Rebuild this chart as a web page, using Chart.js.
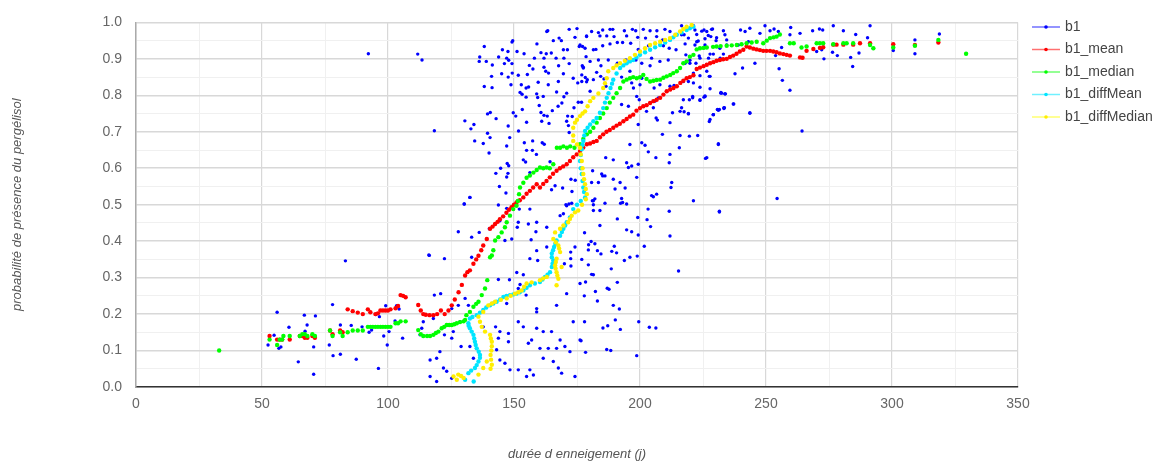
<!DOCTYPE html>
<html>
<head>
<meta charset="utf-8">
<script src="https://cdn.jsdelivr.net/npm/chart.js@4.4.0/dist/chart.umd.min.js"></script>
<style>
  html, body { margin: 0; padding: 0; background: #fff; }
</style>
</head>
<body>
<canvas id="canvas" width="1158" height="462"></canvas>
<script>
// axis ticks (major) - minor lines are drawn halfway
const xTicks = [0, 50, 100, 150, 200, 250, 300, 350];
const yTicks = [0.0, 0.1, 0.2, 0.3, 0.4, 0.5, 0.6, 0.7, 0.8, 0.9, 1.0];
const xTitle = 'durée d enneigement (j)';
const yTitle = 'probabilité de présence du pergélisol';

const seriesNames = ['b1', 'b1_mean', 'b1_median', 'b1_diffMean', 'b1_diffMedian'];
const seriesColors = ['#0000ff', '#ff0000', '#00ff00', '#00e5ff', '#ffee00'];
const legendLineColors = ['#7070ff', '#ff7070', '#70ff70', '#70f0ff', '#ffff70'];

// [duree, probabilite]
const b1 = [
  [52.4,0.115],[54.8,0.142],[56,0.205],[56.7,0.106],[57.5,0.11],[60.7,0.164],[64.4,0.069],[66.8,0.197],[67.1,0.153],[67.9,0.17],
  [70.5,0.11],[70.5,0.035],[71.2,0.195],[76.7,0.115],[78,0.226],[78.2,0.086],[81.1,0.17],[81.1,0.09],[83.1,0.346],[85.4,0.169],
  [87.4,0.076],[89.7,0.165],[92.2,0.914],[92.5,0.15],[93.5,0.156],[95.2,0.199],[96.2,0.051],[96.6,0.193],[98.3,0.14],[99.1,0.223],
  [99.7,0.115],[100.4,0.152],[102.8,0.181],[103.4,0.223],[104.4,0.214],[111.8,0.913],[113.5,0.897],[116.2,0.362],[118.4,0.703],
  // zoom 7 area
  [163.4,0.977],[163,0.975],[171.9,0.981],[175,0.983],[149.5,0.95],[149.2,0.946],[159.1,0.941],[165.6,0.95],[167.9,0.957],[168.8,0.95],
  [174.2,0.959],[178.8,0.961],[138.2,0.934],[145.4,0.925],[147.6,0.92],[151.2,0.92],[154,0.914],[160.7,0.917],[162.8,0.914],[164.8,0.916],
  [169.6,0.925],[171.2,0.925],[175.9,0.934],[177.2,0.934],[136.4,0.905],[136.2,0.893],[139,0.893],[143.9,0.905],[147.1,0.902],[147.9,0.896],
  [146.2,0.887],[149.2,0.887],[141.4,0.883],[158.1,0.902],[161.9,0.902],[166.7,0.902],[169.8,0.902],[156.1,0.882],[161.9,0.877],[167.7,0.881],
  [171.9,0.887],[177.1,0.881],[177.5,0.875],[141.1,0.852],[145.1,0.859],[147.7,0.85],[149.3,0.861],[151.7,0.855],[155.3,0.857],[157.5,0.872],
  [162.6,0.866],[163.7,0.861],[169.6,0.859],[173.5,0.847],[178.3,0.849],[138.2,0.824],[141.3,0.821],[148.8,0.829],[152.9,0.829],[154.8,0.82],
  [155.8,0.823],[159.6,0.836],[163.6,0.829],[167.6,0.838],[175.3,0.834],[178.8,0.837],[152.4,0.808],[153.2,0.803],[154.8,0.795],[159,0.804],
  [159.4,0.794],[161.6,0.797],[166.9,0.809],[170.9,0.806],[169.8,0.796],[169,0.779],[167.5,0.77],[160,0.772],[175.5,0.781],[176.8,0.781],
  [173.8,0.766],[149.7,0.752],[139.5,0.749],[140.6,0.753],[142.9,0.736],[150.7,0.743],[153.3,0.761],[160.7,0.753],[161.9,0.745],[163.2,0.743],
  [165.2,0.758],[171.3,0.743],[170.9,0.729],[173.1,0.742],[130.5,0.73],[134.1,0.72],[132.9,0.708],[147.7,0.716],[155,0.726],[161,0.729],
  [163.9,0.723],[171.6,0.717],[171.9,0.698],[151.8,0.702],[139.5,0.696],[140.5,0.684],[148.3,0.684],[134.4,0.675],[137.8,0.668],[154.1,0.67],
  [157.4,0.675],[161.2,0.67],[162,0.666],[155,0.649],[157.3,0.649],[158.9,0.638],[140.1,0.642],[147.1,0.661],[164.3,0.618],[153.7,0.623],
  [154.6,0.617],[147.3,0.613],[147.9,0.607],[144.7,0.6],[142.8,0.586],[147.6,0.586],[147.1,0.576],[156.3,0.588],[144.2,0.55],[146.8,0.532],
  [132.5,0.52],[130.2,0.502],[166.3,0.552],[169.3,0.546],[172.6,0.57],[174.3,0.567],[173,0.536],[171.8,0.502],[170.6,0.5],[164.9,0.541],
  // zoom 8 area
  [180.8,0.975],[183.5,0.972],[185.2,0.979],[188.1,0.981],[189.2,0.981],[193.8,0.977],[197,0.981],[198.3,0.977],[201.3,0.981],[204,0.977],
  [206.7,0.977],[209.9,0.981],[211.9,0.975],[178.8,0.963],[184.1,0.963],[186.8,0.963],[189.7,0.961],[194.7,0.963],[199.1,0.959],[202.2,0.957],
  [206.6,0.961],[209,0.952],[216.5,0.966],[221.8,0.979],[225.4,0.979],[228.4,0.981],[233.1,0.977],[176.2,0.938],[178.2,0.929],[181.5,0.925],
  [182.5,0.926],[185.2,0.936],[188.1,0.941],[191,0.945],[193.1,0.945],[196.3,0.943],[199.3,0.926],[203.4,0.936],[209.3,0.936],[211.6,0.929],
  [214.3,0.925],[217.9,0.941],[222.5,0.947],[225.8,0.938],[228.1,0.961],[230.2,0.95],[234.4,0.952],[178.6,0.906],[180.2,0.893],[183.5,0.897],
  [184.5,0.881],[187.4,0.897],[191,0.888],[194.4,0.897],[198.4,0.897],[200.7,0.888],[204,0.881],[204.6,0.902],[207.9,0.893],[211.2,0.897],
  [219.8,0.896],[223.5,0.908],[227.2,0.902],[231.8,0.902],[177.5,0.877],[176.9,0.856],[179.1,0.843],[181.5,0.843],[182.8,0.863],[184.4,0.852],
  [185.7,0.845],[186.5,0.825],[189.4,0.843],[192.7,0.85],[196,0.866],[196.7,0.834],[197.4,0.82],[200,0.829],[200.7,0.847],[205.6,0.82],
  [207.9,0.829],[211.9,0.825],[213.5,0.827],[217.2,0.838],[221.2,0.834],[223.8,0.854],[227.5,0.852],[232.4,0.806],[233.7,0.804],[176.9,0.838],
  [180.2,0.811],[198.7,0.797],[199.7,0.788],[205.9,0.784],[207.3,0.793],[217.2,0.788],[220.9,0.797],[225.4,0.795],[192.7,0.775],[195.4,0.77],
  [202.6,0.756],[205.3,0.766],[212.9,0.752],[215.9,0.756],[219.2,0.75],[229.1,0.747],[230.7,0.761],[233.3,0.766],[206.4,0.738],[206.9,0.732],
  [199.3,0.72],[211.9,0.725],[215.9,0.69],[219.6,0.688],[222.9,0.69],[208.9,0.693],[200.7,0.67],[202,0.663],[203.3,0.645],[196,0.665],
  [231.1,0.667],[226.5,0.629],[211.9,0.638],[211.6,0.615],[215.6,0.656],[206.3,0.629],[199.3,0.611],[196.7,0.606],[194.7,0.615],[195.4,0.602],
  [189.4,0.623],[186.4,0.629],[184.8,0.584],[185.2,0.579],[181.2,0.593],[180.8,0.561],[183.5,0.561],[192.1,0.561],[190.1,0.543],[194.1,0.546],
  [189.4,0.57],[186.1,0.579],[198.7,0.575],[204.6,0.525],[206.6,0.529],[212.3,0.547],[212.6,0.561],[221.2,0.511],[182.1,0.516],[181.5,0.511],
  // zoom 9 area
  [181.1,0.511],[186.1,0.504],[181.5,0.5],[192.7,0.517],[193.1,0.506],[192.3,0.504],[194.7,0.502],[205.3,0.522],[203.2,0.488],[211.6,0.482],
  [231.5,0.482],[181.5,0.484],[184.1,0.484],[191,0.461],[199.1,0.465],[202.8,0.459],[184.1,0.443],[204.2,0.44],[178,0.423],[194.7,0.431],
  [196.7,0.426],[199.3,0.417],[211.9,0.414],[180.6,0.399],[182.1,0.393],[179.6,0.39],[189.8,0.386],[201.7,0.386],[179.5,0.376],[183.1,0.374],
  [184.5,0.365],[188.8,0.372],[190.7,0.368],[198.9,0.359],[196,0.356],[193.8,0.347],[176.9,0.35],[179.5,0.335],[188.6,0.324],[215.3,0.318],
  [180.8,0.309],[181.5,0.308],[176.2,0.284],[178.4,0.288],[191,0.287],[187,0.271],[187.7,0.268],[182.3,0.262],[177.9,0.25],[183.1,0.236],
  [189.4,0.224],[191.8,0.214],[178,0.179],[190.2,0.184],[187.2,0.168],[185.3,0.162],[192.2,0.158],[199.5,0.179],[203.7,0.164],[206.3,0.162],
  [176.6,0.127],[186.8,0.103],[188.4,0.1],[178.4,0.095],[198.7,0.086],
  // zoom 10 area
  [223.8,0.788],[225.8,0.798],[232.1,0.806],[233.9,0.804],[237.2,0.776],[233.3,0.764],[231.1,0.759],[229.1,0.747],[243.6,0.751],[227.5,0.728],
  [264.3,0.702],[231.1,0.665],[226,0.627],[254.4,0.517],[231.5,0.48],
  // zoom 11 area
  [132.5,0.52],[130.3,0.502],[143.8,0.499],[147.1,0.49],[152.1,0.488],[156.3,0.488],[144.4,0.456],[151.7,0.452],[155.7,0.447],[159,0.452],
  [163,0.438],[168.3,0.47],[169.6,0.475],[170.9,0.497],[172.9,0.504],[140.2,0.434],[136.2,0.424],[127.9,0.426],[133.2,0.411],[146.4,0.402],
  [149.1,0.406],[151.3,0.438],[156.8,0.404],[158.7,0.426],[163,0.384],[172.5,0.37],[174.2,0.384],[116.4,0.361],[122.4,0.352],[133.2,0.356],
  [159,0.374],[156.3,0.352],[159.4,0.347],[172.5,0.352],[170,0.338],[172.6,0.332],[151.1,0.314],[153.7,0.308],[148.2,0.294],[143.8,0.295],
  [152.4,0.281],[156.3,0.279],[151.7,0.27],[154.8,0.252],[170.9,0.256],[118.4,0.252],[120.9,0.256],[130.6,0.243],[131.9,0.224],[127.9,0.224],
  [147.1,0.229],[159,0.215],[159,0.206],[166.9,0.224],[105.8,0.134],[114,0.179],[118,0.188],[125.3,0.215],[125.9,0.152],[128.6,0.179],
  [113.4,0.161],[112.7,0.143],[122.4,0.143],[125.3,0.134],[129,0.111],[137.8,0.165],[142.7,0.165],[144.4,0.152],[147.8,0.147],[151.7,0.179],
  [153.7,0.165],[159,0.161],[161.6,0.152],[164.9,0.152],[168.3,0.129],[173.5,0.179],[176.2,0.129],[143.8,0.134],[147.8,0.124],[155.7,0.12],
  [157,0.129],[160.3,0.106],[163.6,0.106],[166.9,0.106],[170.2,0.111],[172.2,0.097],[120.6,0.097],[119.3,0.079],[116.7,0.074],[122,0.052],
  [123.3,0.043],[116.7,0.029],[119.3,0.015],[143.1,0.102],[144.4,0.074],[146.4,0.065],[148.4,0.047],[151.7,0.047],[155,0.029],[156.3,0.047],
  [157.7,0.033],[161.6,0.079],[165.6,0.07],[167.6,0.052],[168.9,0.038],[174.2,0.029],[125.3,0.024],[132.5,0.111],[133.9,0.079],
  // zoom 6 area
  [216.5,0.991],[221.2,0.991],[217.5,0.966],[219.2,0.957],[222.5,0.967],[224.5,0.976],[226.5,0.975],[228.8,0.982],[227.1,0.964],[225.8,0.955],
  [223.1,0.949],[221.8,0.938],[230.4,0.958],[233.7,0.966],[239.9,0.979],[241.7,0.975],[243.6,0.984],[247.6,0.97],[249.6,0.991],[251.6,0.977],
  [253.2,0.982],[254.9,0.975],[259.8,0.986],[263.5,0.97],[268.5,0.977],[271.2,0.982],[272.5,0.979],[276.7,0.991],[280.7,0.977],[285.6,0.967],
  [290.3,0.958],[291.3,0.991],[309.1,0.952],[318.8,0.968],[309.1,0.914],[300.5,0.923],[259.5,0.966],[256.2,0.931],[239,0.938],[243,0.947],
  [234.4,0.938],[231.7,0.929],[229.1,0.913],[233.1,0.913],[227.8,0.913],[223.8,0.902],[222.2,0.888],[219.8,0.888],[218.2,0.911],[217.9,0.888],
  [226.5,0.866],[227.8,0.852],[221.2,0.861],[219.2,0.838],[237.7,0.859],[240.7,0.875],[245.6,0.888],[253.8,0.909],[255.2,0.873],[256.5,0.841],
  [259.5,0.814],[270.1,0.92],[272.1,0.925],[273,0.9],[276.4,0.918],[278.3,0.909],[283.6,0.904],[284.4,0.879],[286.9,0.916],[223.8,0.822],
  [227.8,0.818],[220.9,0.793],[219.6,0.788],[223.8,0.786],[225.8,0.797],[232.1,0.808],[233.7,0.804],[237,0.776],[243.6,0.752],[216.5,0.766],
  [217.5,0.755],[219.2,0.749],[229.1,0.747],[231.5,0.761],[233.5,0.766],[227.8,0.734]
];

const b1_mean = [
  [53,0.14],[56,0.13],[57,0.13],[58,0.13],[61,0.13],[65,0.14],[66,0.14],[67,0.135],[68,0.135],[70,0.14],[71,0.135],
  [77,0.155],[78,0.145],[81,0.155],[82,0.15],
  [84,0.213],[86,0.208],[88,0.204],[90,0.2],[92,0.213],[93,0.205],[95,0.2],[96,0.202],[97,0.21],[98,0.21],[99,0.21],[100,0.21],
  [101,0.213],[103,0.216],[104,0.222],[105,0.252],[106,0.25],[107,0.246],
  [112,0.225],[113,0.21],[114,0.2],[115,0.198],[116.5,0.197],[118,0.197],[119.5,0.2],[121,0.21],[122.5,0.2],[124,0.21],[125.3,0.224],
  [126.5,0.24],[128,0.26],[129.3,0.28],[130.6,0.306],[131.5,0.315],[132.5,0.32],[133.9,0.338],[135,0.35],[135.9,0.36],[137,0.375],
  [137.8,0.388],[139.2,0.406],[140.5,0.434],[141.5,0.44],[142.5,0.447],[143.5,0.453],[144.4,0.46],[145.7,0.468],[147,0.478],[148,0.486],
  [149,0.493],[150,0.5],[151,0.506],[152.3,0.512],[153.7,0.52],[155,0.53],[156.3,0.538],[157.6,0.547],[159,0.556],[160.3,0.547],
  [161.6,0.557],[162.9,0.565],[164.2,0.575],[165.5,0.585],[166.9,0.593],[168.2,0.6],[169.5,0.605],[170.9,0.611],[172.2,0.62],[173.5,0.63],
  [174.9,0.638],[176.2,0.647],[177.5,0.657],[178.9,0.666],[180.2,0.668],[181.5,0.672],[182.8,0.675],[184.1,0.685],[185.4,0.693],[186.7,0.7],
  [188,0.705],[189.4,0.711],[190.7,0.717],[192,0.722],[193.4,0.729],[194.7,0.735],[196,0.742],[197.3,0.747],[198.6,0.758],[200,0.765],
  [201.3,0.77],[202.6,0.773],[204,0.779],[205.3,0.784],[206.6,0.788],[208,0.793],[209.3,0.802],[210.6,0.811],[212,0.816],[213.3,0.82],
  [214.6,0.825],[216,0.834],[217.2,0.84],[218.5,0.847],[219.8,0.85],[221.2,0.855],[222.5,0.872],[223.8,0.876],[225.2,0.88],[226.5,0.884],
  [227.8,0.888],[229.1,0.891],[230.4,0.895],[231.7,0.897],[233,0.899],[234.4,0.9],[235.7,0.905],[237,0.909],[238.3,0.914],[239.6,0.92],
  [241,0.925],[242.3,0.934],[243.6,0.931],[245,0.928],[246.3,0.926],[247.6,0.924],[248.9,0.922],[250.2,0.922],[251.6,0.922],[252.9,0.92],
  [254.2,0.918],[255.5,0.915],[256.9,0.913],[258.2,0.911],[259.5,0.909],[263.5,0.904],[264.5,0.903],[266.1,0.922],[268.8,0.927],[271.4,0.93],
  [272.7,0.932],[276.7,0.939],[278,0.939],[280.7,0.939],[284.6,0.939],[287.3,0.943],[291.3,0.943],[300.5,0.94],[309.1,0.938],[318.4,0.945]
];

const b1_median = [
  [33,0.1],[53,0.13],[56,0.115],[57,0.13],[58,0.13],[58.5,0.14],[61,0.14],[65,0.14],[66,0.145],[67,0.145],[68,0.14],[70,0.145],[71,0.14],
  [77,0.155],[78,0.14],[81,0.15],[82,0.14],[84,0.15],[86,0.155],[88,0.155],[90,0.155],[92,0.165],[93,0.165],[94,0.165],[95,0.165],
  [96,0.165],[97,0.165],[98,0.165],[99,0.165],[100,0.165],[101,0.165],[103,0.175],[104,0.175],[105,0.18],[107,0.18],
  [112,0.156],[113,0.145],[114,0.14],[115.5,0.14],[116.7,0.14],[118,0.143],[119,0.148],[120,0.152],[121.3,0.161],[122.3,0.165],
  [123.3,0.17],[124.3,0.17],[125.3,0.17],[126.3,0.172],[127.3,0.175],[128.6,0.178],[130,0.18],[130.6,0.184],[131.1,0.197],[132.5,0.206],
  [133.9,0.22],[135,0.228],[135.9,0.234],[137.2,0.252],[138.5,0.27],[139.4,0.293],
  [140.5,0.356],[141.2,0.361],[141.8,0.375],[142.5,0.402],[143.8,0.411],[145.1,0.424],[146.4,0.438],[147.1,0.452],[148.4,0.47],[149.7,0.488],
  [151,0.497],[151.5,0.51],[152,0.529],[152.4,0.547],[153.7,0.56],[155,0.574],[156.3,0.58],[157.7,0.588],[159,0.595],[160.3,0.602],
  [161.6,0.6],[162.9,0.602],[164.2,0.6],[165.6,0.611],[167,0.656],[168.3,0.656],[169.6,0.66],[171,0.656],[172.3,0.66],[174,0.656],
  [176.2,0.666],[177.5,0.68],[178.9,0.693],[180.2,0.7],[181.5,0.711],[182.8,0.725],[184.1,0.738],[185.4,0.75],[186.8,0.765],[188,0.78],
  [189.4,0.793],[190.7,0.806],[192.1,0.82],[193.4,0.838],[194.7,0.843],[196,0.847],[197.3,0.85],[198.7,0.847],[200,0.85],[201.3,0.856],
  [202.6,0.845],[204,0.838],[205.3,0.84],[206.6,0.842],[208,0.843],[209.3,0.848],[210.6,0.852],[212,0.856],[213.2,0.861],[214.6,0.866],
  [215.9,0.875],[217.2,0.888],[218.5,0.893],[219.8,0.906],[221.2,0.911],[222.5,0.926],[223.8,0.929],[225.2,0.93],[226.5,0.931],[229,0.933],
  [230.4,0.934],[232,0.935],[234.4,0.936],[236.4,0.937],[238.4,0.938],[240.3,0.94],[242.3,0.943],[244.3,0.945],[246.3,0.947],[248.9,0.943],
  [250.3,0.95],[251.6,0.957],[253,0.959],[254.2,0.961],[255.5,0.967],[259.5,0.943],[261,0.943],[264.1,0.931],[266.1,0.934],[270.1,0.943],
  [271.4,0.943],[272.7,0.943],[276.7,0.94],[280.7,0.943],[282,0.943],[284.6,0.943],[291.3,0.938],[292.6,0.929],[300.5,0.931],[309.1,0.936],
  [318.4,0.952],[329.4,0.914]
];

const b1_diffMean = [
  [130.6,0.02],[131.9,0.038],[133,0.045],[134,0.015],[134.5,0.052],[135.2,0.06],[135.9,0.07],[136.5,0.08],[136.5,0.088],[136,0.097],
  [135.2,0.106],[134.8,0.115],[134.5,0.124],[134.2,0.133],[133.9,0.143],[133.2,0.152],[132.5,0.161],[132,0.168],[131.9,0.175],[132.5,0.188],
  [133.5,0.192],[135.2,0.197],[136.5,0.204],[137.8,0.211],[139,0.218],[140.5,0.224],[141.8,0.229],[143.1,0.234],[144.5,0.24],[145.8,0.247],
  [147,0.25],[148.4,0.252],[149.7,0.254],[151,0.256],[152.3,0.26],[153.7,0.265],[155,0.272],[156.3,0.279],[158.3,0.284],[160.3,0.288],
  [161.3,0.295],[162.3,0.302],[163.3,0.308],[164.3,0.315],[165,0.329],[165.3,0.338],[165.6,0.347],[165,0.356],[165,0.366],[165.5,0.375],
  [165.9,0.384],[166.4,0.393],[166.9,0.402],[168.3,0.415],[169,0.425],[169.6,0.434],[170.3,0.443],[170.9,0.452],[172.2,0.465],[173.5,0.488],
  [175,0.5],[176.5,0.51],[178.2,0.52],[177.8,0.535],[177.5,0.547],[177.2,0.565],[176.9,0.584],[176.5,0.6],[176.2,0.62],[176.5,0.636],
  [176.9,0.652],[177.2,0.664],[177.5,0.675],[177.9,0.69],[178.2,0.702],[179.2,0.711],[180.2,0.72],[181.5,0.729],[182.8,0.738],[184.1,0.752],
  [185.4,0.765],[186.1,0.78],[186.8,0.793],[187.5,0.806],[188.3,0.82],[188.9,0.832],[189.4,0.843],[190.7,0.86],[192.1,0.875],[193.4,0.882],
  [194.7,0.888],[196,0.893],[197.3,0.897],[198.6,0.904],[200,0.911],[202,0.918],[204,0.925],[206,0.932],[208,0.938],[210,0.945],
  [211.9,0.952],[213.2,0.959],[214.6,0.966],[216.5,0.972],[218.5,0.979],[219.8,0.984],[221.2,0.988]
];

const b1_diffMedian = [
  [126,0.029],[127.3,0.02],[127.9,0.034],[129,0.03],[130,0.025],[135.9,0.034],[137.8,0.052],[139.2,0.07],[140.7,0.05],[141.2,0.061],
  [140.9,0.075],[140.7,0.088],[141,0.1],[141.2,0.112],[141.2,0.124],[140.8,0.133],[140.5,0.143],[138.5,0.152],[137.2,0.165],[136.5,0.179],
  [135.9,0.193],[137.8,0.206],[139.8,0.224],[141.2,0.229],[142.5,0.234],[144.8,0.239],[147.1,0.243],[148.7,0.25],[150.4,0.256],[151.7,0.26],
  [153,0.265],[154,0.275],[155,0.284],[157,0.287],[160.3,0.293],[161.6,0.298],[163,0.302],[166.9,0.279],[167.6,0.297],[167.2,0.306],
  [166.9,0.315],[166.5,0.325],[166.3,0.334],[166.6,0.343],[166.9,0.352],[168.9,0.329],[168.3,0.37],[167.9,0.38],[167.6,0.388],[166.6,0.397],
  [165.6,0.406],[166.3,0.424],[168.3,0.434],[169.6,0.443],[171.5,0.452],[172.2,0.461],[172.9,0.47],[174.2,0.479],[175.5,0.484],[177,0.5],
  [178.5,0.515],[178.9,0.529],[178.5,0.543],[178.2,0.556],[177.8,0.57],[177.5,0.584],[177.2,0.6],[176.9,0.62],[176.5,0.638],[176.2,0.656],
  [175,0.665],[173.5,0.675],[173.5,0.69],[173.5,0.711],[174.2,0.725],[175,0.733],[176.2,0.743],[177.2,0.75],[178.2,0.756],[179.2,0.77],
  [180.2,0.784],[181.5,0.793],[183.5,0.805],[185.4,0.82],[186.1,0.833],[186.8,0.847],[187.4,0.866],[189.4,0.875],[190.7,0.882],[192.1,0.888],
  [194,0.895],[196,0.902],[198,0.911],[200,0.92],[202,0.929],[204,0.938],[206,0.943],[208,0.947],[210,0.952],[211.9,0.957],
  [214,0.966],[215.9,0.975],[217.2,0.982],[218.5,0.988],[220.5,0.993]
];

const allSeries = [b1, b1_mean, b1_median, b1_diffMean, b1_diffMedian];

Chart.defaults.font.family = '"Liberation Sans", Arial, sans-serif';

function isMajor(v, list) {
  return list.some(t => Math.abs(t - v) < 1e-6);
}

// legend drawn at the right side, like the original
const sideLegend = {
  id: 'sideLegend',
  afterDraw(chart) {
    const ctx = chart.ctx;
    const area = chart.chartArea;
    const x0 = area.right + 14;
    ctx.save();
    ctx.font = '14px "Liberation Sans", Arial, sans-serif';
    ctx.textBaseline = 'middle';
    ctx.textAlign = 'left';
    chart.data.datasets.forEach((ds, i) => {
      const y = 27 + i * 22.5;
      ctx.strokeStyle = legendLineColors[i];
      ctx.lineWidth = 1.5;
      ctx.beginPath();
      ctx.moveTo(x0, y);
      ctx.lineTo(x0 + 28, y);
      ctx.stroke();
      ctx.fillStyle = seriesColors[i];
      ctx.beginPath();
      ctx.arc(x0 + 14, y, 1.8, 0, Math.PI * 2);
      ctx.fill();
      ctx.fillStyle = '#444';
      ctx.fillText(ds.label, x0 + 33, y);
    });
    ctx.restore();
  }
};

const ctx = document.getElementById('canvas');

new Chart(ctx, {
  type: 'scatter',
  data: {
    datasets: seriesNames.map((name, i) => ({
      label: name,
      data: allSeries[i].map(p => ({ x: p[0], y: p[1] })),
      backgroundColor: seriesColors[i],
      borderColor: seriesColors[i],
      borderWidth: 0,
      pointRadius: i === 0 ? 1.7 : 2.2,
      pointHoverRadius: 2,
      order: 5 - i
    }))
  },
  options: {
    responsive: false,
    animation: false,
    devicePixelRatio: 1,
    layout: { padding: { top: 21, right: 140, bottom: 0, left: 0 } },
    plugins: {
      legend: { display: false },
      tooltip: { enabled: false }
    },
    scales: {
      x: {
        type: 'linear',
        min: 0,
        max: 350,
        afterBuildTicks(scale) {
          const t = [];
          for (let v = 0; v <= 350; v += 25) t.push({ value: v });
          scale.ticks = t;
        },
        afterFit(scale) { scale.height = 75; },
        ticks: {
          padding: 9,
          color: '#666',
          font: { size: 14 },
          autoSkip: false,
          maxRotation: 0,
          callback: v => isMajor(v, xTicks) ? String(v) : ''
        },
        grid: {
          drawTicks: false,
          color: c => isMajor(c.tick.value, xTicks) ? '#d8d8d8' : '#f0f0f0',
          lineWidth: c => isMajor(c.tick.value, xTicks) ? 1.2 : 1
        },
        border: { color: '#333', width: 1.5 },
        title: {
          display: true,
          text: xTitle,
          color: '#555',
          font: { size: 13, style: 'italic' },
          padding: { top: 0, bottom: 0 }
        }
      },
      y: {
        type: 'linear',
        min: 0,
        max: 1,
        afterBuildTicks(scale) {
          const t = [];
          for (let i = 0; i <= 20; i++) t.push({ value: Math.round(i * 5) / 100 });
          scale.ticks = t;
        },
        afterFit(scale) { scale.width = 136; },
        ticks: {
          padding: 14,
          color: '#666',
          font: { size: 14 },
          autoSkip: false,
          callback: v => isMajor(v, yTicks) ? v.toFixed(1) : ''
        },
        grid: {
          drawTicks: false,
          color: c => isMajor(c.tick.value, yTicks) ? '#d8d8d8' : '#f0f0f0',
          lineWidth: c => isMajor(c.tick.value, yTicks) ? 1.5 : 1
        },
        border: { color: '#aaa', width: 1.5 },
        title: {
          display: true,
          text: yTitle,
          color: '#555',
          font: { size: 13, style: 'italic' },
          padding: { top: 10, bottom: 0 }
        }
      }
    }
  },
  plugins: [sideLegend]
});
</script>
</body>
</html>
